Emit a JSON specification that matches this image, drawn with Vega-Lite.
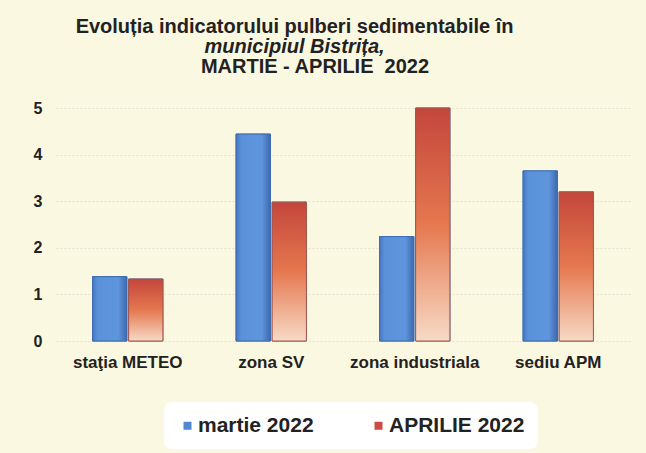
{
  "$schema": "https://vega.github.io/schema/vega-lite/v6.json",
  "background": "#fbf8e1",
  "padding": {"left": 33, "top": 17, "right": 16, "bottom": 8},
  "title": {
    "text": "Evoluția indicatorului pulberi sedimentabile în",
    "subtitle": "municipiul Bistrița,",
    "anchor": "middle",
    "dx": -37,
    "font": "Liberation Sans",
    "fontSize": 20,
    "fontWeight": "bold",
    "color": "#222222",
    "subtitleFont": "Liberation Sans",
    "subtitleFontSize": 20,
    "subtitleFontStyle": "italic",
    "subtitleFontWeight": "bold",
    "subtitleColor": "#222222",
    "subtitlePadding": 0,
    "offset": 0
  },
  "datasets": {
    "bars": [
      {"statie": "staţia METEO", "luna": "martie 2022", "valoare": 1.38},
      {"statie": "staţia METEO", "luna": "APRILIE 2022", "valoare": 1.33},
      {"statie": "zona SV", "luna": "martie 2022", "valoare": 4.44},
      {"statie": "zona SV", "luna": "APRILIE 2022", "valoare": 2.98},
      {"statie": "zona industriala", "luna": "martie 2022", "valoare": 2.24},
      {"statie": "zona industriala", "luna": "APRILIE 2022", "valoare": 5.0},
      {"statie": "sediu APM", "luna": "martie 2022", "valoare": 3.65},
      {"statie": "sediu APM", "luna": "APRILIE 2022", "valoare": 3.2}
    ]
  },
  "vconcat": [
    {
      "title": {
        "text": "MARTIE - APRILIE\u00a0 2022",
        "anchor": "middle",
        "dx": -28,
        "font": "Liberation Sans",
        "fontSize": 20,
        "fontWeight": "bold",
        "color": "#222222",
        "offset": 23
      },
      "width": 574,
      "height": 233,
      "data": {"name": "bars"},
      "encoding": {
        "x": {
          "field": "statie",
          "type": "nominal",
          "sort": ["staţia METEO", "zona SV", "zona industriala", "sediu APM"],
          "scale": {"paddingInner": 0.51, "paddingOuter": 0.255},
          "axis": {"title": null, "labelAngle": 0, "domain": false, "ticks": false, "labelPadding": 13, "labelFontSize": 17}
        },
        "xOffset": {
          "field": "luna",
          "type": "nominal",
          "sort": ["martie 2022", "APRILIE 2022"],
          "scale": {"paddingInner": 0.05}
        },
        "y": {
          "field": "valoare",
          "type": "quantitative",
          "scale": {"domain": [0, 5], "nice": false},
          "axis": {"title": null, "values": [0, 1, 2, 3, 4, 5], "domain": false, "ticks": false, "labelPadding": 14, "labelFontSize": 16, "grid": true, "gridColor": "#e4e1d2", "gridDash": [2, 2]}
        }
      },
      "layer": [
        {
          "mark": {"type": "bar", "stroke": "#3d6cb2", "strokeWidth": 1},
          "encoding": {
            "color": {
              "field": "luna",
              "type": "nominal",
              "sort": ["martie 2022", "APRILIE 2022"],
              "scale": {"domain": ["martie 2022", "APRILIE 2022"], "range": ["#5088d0", "#cc4c44"]},
              "legend": {
                "title": null,
                "orient": "none",
                "legendX": 108,
                "legendY": 294,
                "direction": "horizontal",
                "symbolType": "square",
                "symbolSize": 64,
                "symbolStrokeWidth": 0,
                "labelFontSize": 21,
                "labelFont": "Liberation Sans",
                "labelFontWeight": "bold",
                "labelColor": "#222222",
                "labelOffset": 0,
                "columnPadding": 54,
                "padding": 13,
                "fillColor": "#ffffff",
                "cornerRadius": 8
              }
            }
          }
        },
        {
          "transform": [{"filter": "datum.luna === 'martie 2022'"}],
          "mark": {
            "type": "bar",
            "stroke": "#3d6cb2",
            "strokeWidth": 1,
            "fill": {
              "gradient": "linear", "x1": 0, "y1": 0, "x2": 1, "y2": 0,
              "stops": [
                {"offset": 0, "color": "#4777c0"},
                {"offset": 0.15, "color": "#5a92da"},
                {"offset": 0.75, "color": "#5e95dc"},
                {"offset": 1, "color": "#3c69ad"}
              ]
            }
          }
        },
        {
          "transform": [{"filter": "datum.luna === 'APRILIE 2022'"}],
          "mark": {
            "type": "bar",
            "stroke": "#a5564c",
            "strokeWidth": 1,
            "fill": {
              "gradient": "linear", "x1": 0, "y1": 0, "x2": 0, "y2": 1,
              "stops": [
                {"offset": 0, "color": "#c4463c"},
                {"offset": 0.5, "color": "#e5784f"},
                {"offset": 1, "color": "#f7dac6"}
              ]
            }
          }
        }
      ]
    }
  ],
  "config": {
    "font": "Liberation Sans",
    "view": {"stroke": null},
    "axis": {"labelFont": "Liberation Sans", "labelFontWeight": "bold", "labelColor": "#222222"}
  }
}
